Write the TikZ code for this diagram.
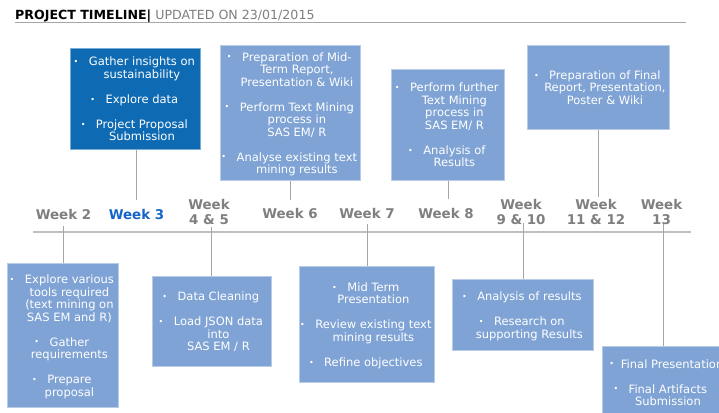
\documentclass[tikz,border=0pt]{standalone}
\usepackage{fontspec}
\setmainfont{DejaVu Sans}
\definecolor{darkbox}{RGB}{14,106,178}
\definecolor{lightbox}{RGB}{127,163,212}
\definecolor{weekgray}{RGB}{127,127,127}
\definecolor{weekblue}{RGB}{21,101,200}
\definecolor{linegray}{RGB}{166,166,166}
\definecolor{axisgray}{RGB}{191,191,191}
% the bullet glyph used in every item
\newcommand{\tlbullet}{\raisebox{1.2pt}{\fontsize{8}{8}\selectfont\textbullet}}
% extra room above the first line, so the text sits a little low in its box
\newcommand{\tltop}{\rule{0pt}{12.7pt}}
% one bullet item: a centred block of lines, indented a little to the right,
% with the bullet hanging to the left of its first line
\newcommand{\tlitem}[1]{\hspace{13pt}\begin{tabular}[t]{@{}c@{}}\llap{\tlbullet\hspace{10.5pt}}#1\end{tabular}}
\tikzset{
  taskbox/.style={rectangle, anchor=north west, inner sep=0pt, align=center,
    text=white, font=\fontsize{11.5}{12.5}\selectfont},
  darktask/.style={taskbox, fill=darkbox, draw=darkbox!55!white, line width=0.8pt},
  lighttask/.style={taskbox, fill=lightbox, draw=lightbox!55!white, line width=0.8pt},
  weeklabel/.style={inner sep=0pt, align=center, text=weekgray,
    font=\fontsize{13.4}{15}\selectfont\bfseries},
  conn/.style={draw=linegray, line width=1pt},
}
\setlength{\lineskip}{0pt}
\begin{document}
\begin{tikzpicture}[x=1pt, y=-1pt]
\fill[white] (0,0) rectangle (719,412);
\useasboundingbox (0,0) rectangle (719,412);
\clip (0,0) rectangle (719,412);

% heading
\node[anchor=base west, inner sep=0pt, font=\fontsize{12.6}{14}\selectfont] (title) at (15,19.6)
  {\textbf{PROJECT TIMELINE|} \textcolor{weekgray}{UPDATED ON 23/01/2015}};
\coordinate (hl0) at (15,22.7);
\coordinate (hl1) at (686,22.7);
\draw[draw=linegray, line width=1.2pt] (hl0) -- (hl1);

% time axis
\coordinate (ax0) at (33,232);
\coordinate (ax1) at (691,232);
\draw[draw=axisgray, line width=1.5pt] (ax0) -- (ax1);

% tasks above the axis
\node[darktask, minimum width=130pt, minimum height=101pt] (b3) at (70,48)
  {\tltop\tlitem{Gather insights on\\sustainability}\\[12.5pt]
   \tlitem{Explore data}\\[12.5pt]
   \tlitem{Project Proposal\\Submission}};
\node[lighttask, minimum width=140pt, minimum height=135pt] (b6) at (220,45)
  {\tltop\tlitem{Preparation of Mid-\\Term Report,\\Presentation \& Wiki}\\[12.5pt]
   \tlitem{Perform Text Mining\\process in\\SAS EM/ R}\\[12.5pt]
   \tlitem{Analyse existing text\\mining results}};
\node[lighttask, minimum width=113pt, minimum height=111pt] (b8) at (391,69)
  {\tltop\tlitem{Perform further\\Text Mining\\process in\\SAS EM/ R}\\[12.5pt]
   \tlitem{Analysis of\\Results}};
\node[lighttask, minimum width=142pt, minimum height=84pt] (b11) at (527,45)
  {\tltop\tlitem{Preparation of Final\\Report, Presentation,\\Poster \& Wiki}};

% tasks below the axis
\node[lighttask, minimum width=111pt, minimum height=144pt] (b2) at (7,263)
  {\tltop\tlitem{Explore various\\tools required\\(text mining on\\SAS EM and R)}\\[12.5pt]
   \tlitem{Gather\\requirements}\\[12.5pt]
   \tlitem{Prepare\\proposal}};
\node[lighttask, minimum width=119pt, minimum height=90pt] (b45) at (152,276)
  {\tltop\tlitem{Data Cleaning}\\[12.5pt]
   \tlitem{Load JSON data\\into\\SAS EM / R}};
\node[lighttask, minimum width=135pt, minimum height=116pt] (b7) at (299,266)
  {\tltop\tlitem{Mid Term\\Presentation}\\[12.5pt]
   \tlitem{Review existing text\\mining results}\\[12.5pt]
   \tlitem{Refine objectives}};
\node[lighttask, minimum width=141pt, minimum height=71pt] (b910) at (452,279)
  {\tltop\tlitem{Analysis of results}\\[12.5pt]
   \tlitem{Research on\\supporting Results}};
% the first line here is wider than the box and runs past its right edge
\node[lighttask, minimum width=118pt, minimum height=72pt] (b13) at (602,346)
  {\tltop\makebox[104pt][l]{\tlbullet\hspace{6.8pt}\rlap{Final Presentation}}\\[12.5pt]
   \tlitem{Final Artifacts\\Submission}};

% connector ends near the axis
\coordinate (t3) at (136,200);
\coordinate (t6) at (290,200);
\coordinate (t8) at (448,199);
\coordinate (t11) at (598,197);
\coordinate (u2) at (63,226);
\coordinate (u45) at (211,227);
\coordinate (u7) at (367,224);
\coordinate (u910) at (523,223);
\coordinate (u13) at (663,223);

\draw[conn] (b3.south -| t3) -- (t3);
\draw[conn] (b6.south -| t6) -- (t6);
\draw[conn] (b8.south -| t8) -- (t8);
\draw[conn] (b11.south -| t11) -- (t11);
\draw[conn] (u2) -- (b2.north -| u2);
\draw[conn] (u45) -- (b45.north -| u45);
\draw[conn] (u7) -- (b7.north -| u7);
\draw[conn] (u910) -- (b910.north -| u910);
\draw[conn] (u13) -- (b13.north -| u13);

% week labels
\node[weeklabel] (w2) at (63.5,214.5) {Week 2};
\node[weeklabel, text=weekblue] (w3) at (136.5,214.5) {Week 3};
\node[weeklabel] (w45) at (209,212.5) {Week\\4 \& 5};
\node[weeklabel] (w6) at (290,214) {Week 6};
\node[weeklabel] (w7) at (367,214) {Week 7};
\node[weeklabel] (w8) at (446,213.5) {Week 8};
\node[weeklabel] (w910) at (521,212) {Week\\9 \& 10};
\node[weeklabel] (w1112) at (596,212) {Week\\11 \& 12};
\node[weeklabel] (w13) at (661.5,212) {Week\\13};
\end{tikzpicture}
\end{document}
